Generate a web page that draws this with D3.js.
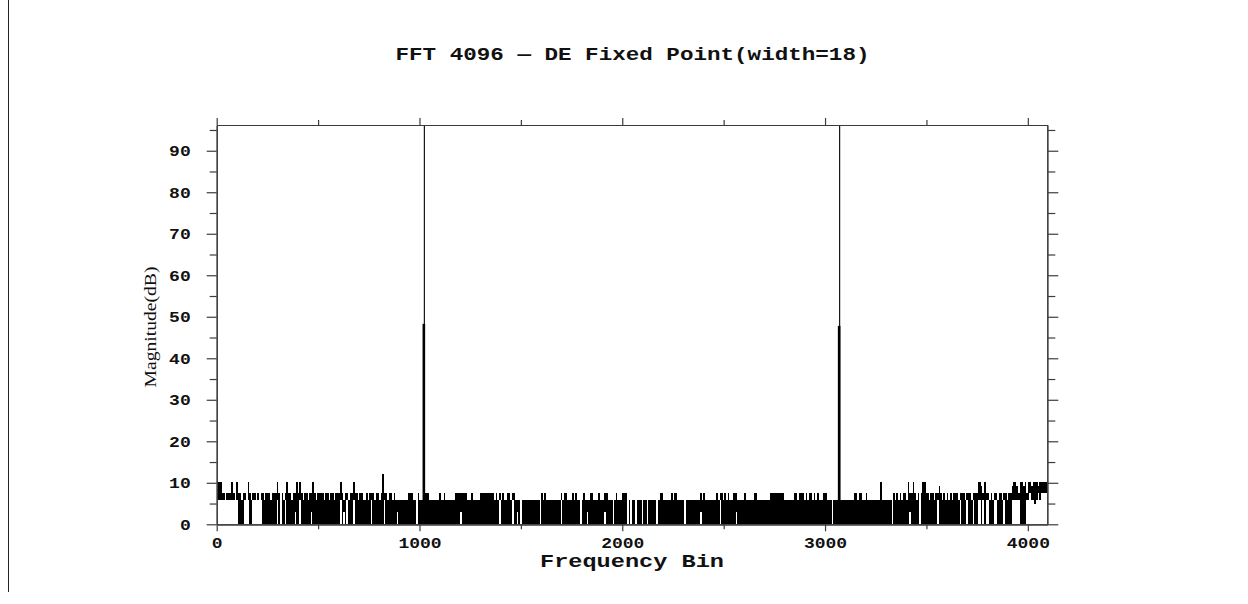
<!DOCTYPE html>
<html>
<head>
<meta charset="utf-8">
<script src="https://cdn.jsdelivr.net/npm/d3@7"></script>
<style>
  body { margin: 0; background: #fff; }
  svg { display: block; }
</style>
</head>
<body>
<div id="chart"></div>
<script>
// ---- data ----
const chartTitle = "FFT 4096 \u2014 DE Fixed Point(width=18)";
const xTitle = "Frequency Bin";
const yTitle = "Magnitude(dB)";

const binCount = 4096;
const xTicks = [0, 1000, 2000, 3000, 4000];
const xMinorTicks = [500, 1500, 2500, 3500];
const yTicks = [0, 10, 20, 30, 40, 50, 60, 70, 80, 90];
const yMinorTicks = [5, 15, 25, 35, 45, 55, 65, 75, 85, 95];
const yMax = 96.2;

// tone bins and their levels (dB)
const peakBins = [1024, 3072];
const peakDb = [96.2, 96.2];
const shoulderDb = [48.3, 47.8];

// noise floor, one code per group of 8 bins (512 groups)
const groupSize = 8;
const levelCodes = "034679ac";
const levelDb = [0, 3.0, 4.8, 5.9, 7.6, 9.3, 10.3, 12.2];

const floorTop = [
  "aaa776777a76a776776a767767677677",
  "76777a76767a77677a7a7677677a7677",
  "776776776777a7677677a77677667677",
  "767767c7767767666666667776667667",
  "77766666676676666667777777666766",
  "66777777777676767667767766666666",
  "66666666767666666666767766676766",
  "66766677666766677666667666777666",
  "66666666666666666776666676776666",
  "66666666667676666666767767676677",
  "76666766666776666666677777777766",
  "66667767776767767676667766666666",
  "6666666667767766766666666a666666",
  "6767676776a77a76767aa77677677976",
  "767676777677767776777aa97a776767",
  "76776776779aa97aa9a7aa9aaa9aaaaa"
].join("");

const floorBottom = [
  "66666666666660000666006666660000",
  "00000606006000003006000000300000",
  "00000000000060306000600000000006",
  "00000006000000030000000000060000",
  "00000000000000000000003000000000",
  "00000000000000600000006003060000",
  "00000006000000000000600000000000",
  "60003000000000030000600000000606",
  "00600060060000060000000000000000",
  "60000000003000000000006000000000",
  "30000000000000000000000000000000",
  "00000000000000000000000000060000",
  "00000000000000000000000000000000",
  "60000000000300000600000000006000",
  "00000000006000600060066060660006",
  "60000600006666600006676646767777"
].join("");

// ---- layout ----
const width = 1248, height = 604;
const plotLeft = 216.7, plotRight = 1047.3, plotTop = 125, plotBottom = 524.3;
const axisColor = "#3c3c3c";
const monoFont = "'Liberation Mono', 'DejaVu Sans Mono', monospace";

const svg = d3.select("#chart").append("svg")
  .attr("width", width)
  .attr("height", height);

// Scales
const xScale = d3.scaleLinear().domain([0, binCount]).range([plotLeft, plotRight]);
const yScale = d3.scaleLinear().domain([0, yMax]).range([plotBottom, plotTop]);

const lvl = c => levelDb[levelCodes.indexOf(c)];
const groups = d3.range(floorTop.length).map(i => ({
  bin: i * groupSize,
  hi: lvl(floorTop[i]),
  lo: lvl(floorBottom[i])
}));

// stray margin line on the left edge
svg.append("line")
  .attr("x1", 8.5).attr("x2", 8.5)
  .attr("y1", 0).attr("y2", 592)
  .attr("stroke", "#222").attr("stroke-width", 1);

// Noise floor
svg.append("g")
  .attr("shape-rendering", "crispEdges")
  .selectAll("rect")
  .data(groups)
  .enter()
  .append("rect")
  .attr("x", d => xScale(d.bin))
  .attr("width", xScale(groupSize) - xScale(0))
  .attr("y", d => yScale(d.hi))
  .attr("height", d => yScale(d.lo) - yScale(d.hi))
  .attr("fill", "#000");

// Tones
const tones = peakBins.map((b, i) => ({ bin: b, db: peakDb[i], shoulder: shoulderDb[i] }));
svg.append("g").selectAll("line.shoulder")
  .data(tones).enter().append("line")
  .attr("class", "shoulder")
  .attr("x1", d => xScale(d.bin) - 0.5).attr("x2", d => xScale(d.bin) - 0.5)
  .attr("y1", yScale(0)).attr("y2", d => yScale(d.shoulder))
  .attr("stroke", "#000").attr("stroke-width", 2.6);
svg.append("g").selectAll("line.peak")
  .data(tones).enter().append("line")
  .attr("class", "peak")
  .attr("x1", d => xScale(d.bin)).attr("x2", d => xScale(d.bin))
  .attr("y1", yScale(0)).attr("y2", d => yScale(d.db))
  .attr("stroke", "#000").attr("stroke-width", 1.1);

// Axes
function styleAxis(g) {
  g.selectAll("path.domain").attr("stroke", axisColor).attr("stroke-width", 1.2);
  g.selectAll(".tick line").attr("stroke", axisColor).attr("stroke-width", 1.2);
  g.selectAll(".tick text")
    .attr("fill", "#111")
    .attr("textLength", d => String(d).length * 10.8)
    .attr("lengthAdjust", "spacingAndGlyphs")
    .style("font-family", monoFont)
    .style("font-size", "15px")
    .style("font-weight", "bold");
}

svg.append("g").attr("transform", `translate(0,${plotBottom})`)
  .call(d3.axisBottom(xScale).tickValues(xTicks).tickSize(7).tickSizeOuter(0).tickPadding(6)
    .tickFormat(d3.format("d")))
  .call(styleAxis);
svg.append("g").attr("transform", `translate(0,${plotBottom})`)
  .call(d3.axisBottom(xScale).tickValues(xMinorTicks).tickSize(5).tickSizeOuter(0).tickFormat(""))
  .call(styleAxis);

svg.append("g").attr("transform", `translate(0,${plotTop})`)
  .call(d3.axisTop(xScale).tickValues(xTicks).tickSize(7).tickSizeOuter(0).tickFormat(""))
  .call(styleAxis);
svg.append("g").attr("transform", `translate(0,${plotTop})`)
  .call(d3.axisTop(xScale).tickValues(xMinorTicks).tickSize(5).tickSizeOuter(0).tickFormat(""))
  .call(styleAxis);

svg.append("g").attr("transform", `translate(${plotLeft},0)`)
  .call(d3.axisLeft(yScale).tickValues(yTicks).tickSize(10).tickSizeOuter(0).tickPadding(16)
    .tickFormat(d3.format("d")))
  .call(styleAxis);
svg.append("g").attr("transform", `translate(${plotLeft},0)`)
  .call(d3.axisLeft(yScale).tickValues(yMinorTicks).tickSize(7).tickSizeOuter(0).tickFormat(""))
  .call(styleAxis);

svg.append("g").attr("transform", `translate(${plotRight},0)`)
  .call(d3.axisRight(yScale).tickValues(yTicks).tickSize(11).tickSizeOuter(0).tickFormat(""))
  .call(styleAxis);
svg.append("g").attr("transform", `translate(${plotRight},0)`)
  .call(d3.axisRight(yScale).tickValues(yMinorTicks).tickSize(8).tickSizeOuter(0).tickFormat(""))
  .call(styleAxis);

// Titles
svg.append("text")
  .attr("x", 632.5).attr("y", 60)
  .attr("text-anchor", "middle")
  .attr("textLength", 474).attr("lengthAdjust", "spacingAndGlyphs")
  .style("font-family", monoFont).style("font-size", "18px").style("font-weight", "bold")
  .attr("fill", "#111")
  .text(chartTitle);

svg.append("text")
  .attr("x", 632).attr("y", 567)
  .attr("text-anchor", "middle")
  .attr("textLength", 184).attr("lengthAdjust", "spacingAndGlyphs")
  .style("font-family", monoFont).style("font-size", "18px").style("font-weight", "bold")
  .attr("fill", "#111")
  .text(xTitle);

svg.append("text")
  .attr("transform", "translate(156,327) rotate(-90)")
  .attr("text-anchor", "middle")
  .attr("textLength", 121).attr("lengthAdjust", "spacingAndGlyphs")
  .style("font-family", "'Liberation Serif', 'DejaVu Serif', serif").style("font-size", "17px")
  .attr("fill", "#111")
  .text(yTitle);
</script>
</body>
</html>
